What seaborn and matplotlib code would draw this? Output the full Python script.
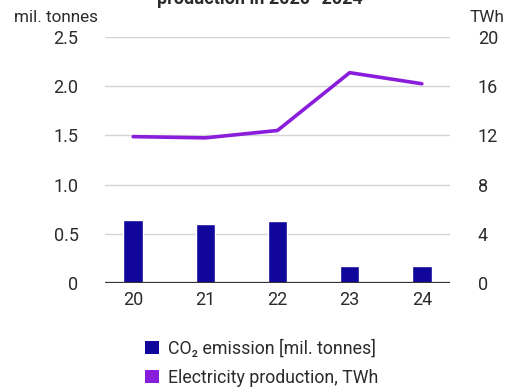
import matplotlib
matplotlib.use("Agg")
import matplotlib.pyplot as plt
from matplotlib.patches import Patch
import seaborn as sns
import pandas as pd

years = ["20", "21", "22", "23", "24"]
co2_emission = [0.64, 0.60, 0.63, 0.17, 0.17]          # mil. tonnes
electricity_twh = [11.9, 11.8, 12.4, 17.1, 16.2]       # TWh
left_ticks = [0, 0.5, 1.0, 1.5, 2.0, 2.5]
left_tick_labels = ["0", "0.5", "1.0", "1.5", "2.0", "2.5"]
right_ticks = [0, 4, 8, 12, 16, 20]
title_text = "production in 2020–2024"

bar_color = "#10069B"
line_color = "#8A1DDB"
text_color = "#2b2b2b"

sns.set_theme(style="white")
plt.rcParams["font.family"] = ["Roboto", "DejaVu Sans"]

df = pd.DataFrame({"year": years, "co2": co2_emission, "twh": electricity_twh})

fig = plt.figure(figsize=(5.09, 3.88), dpi=100)
ax = fig.add_axes([105 / 509, 1 - 283 / 388, 345 / 509, 246 / 388])

sns.barplot(data=df, x="year", y="co2", color=bar_color, width=0.27,
            saturation=1, ax=ax, zorder=3)
ax.set_xlim(-0.39, 4.39)
ax.set_ylim(0, 2.5)
ax.set_yticks(left_ticks)
ax.set_yticklabels(left_tick_labels)
ax.set_xlabel("")
ax.set_ylabel("")
ax.grid(axis="y", color="#d4d4d4", linewidth=1, zorder=0)
for s in ax.spines.values():
    s.set_visible(False)
ax.axhline(0, color="#333333", linewidth=1.6, zorder=4)
ax.tick_params(axis="y", length=0, pad=19, labelsize=13, labelcolor=text_color)
ax.tick_params(axis="x", length=0, pad=6, labelsize=13, labelcolor=text_color)

ax2 = ax.twinx()
sns.lineplot(data=df, x="year", y="twh", color=line_color, linewidth=2.6,
             ax=ax2, zorder=5)
ax2.set_ylim(0, 20)
ax2.set_yticks(right_ticks)
ax2.set_ylabel("")
for s in ax2.spines.values():
    s.set_visible(False)
ax2.tick_params(axis="y", length=0, pad=20, labelsize=13, labelcolor=text_color)
ax.set_xlim(-0.39, 4.39)

fig.text(14 / 509, 1 - 17 / 388, "mil. tonnes", fontsize=12.3, color=text_color,
         va="center", ha="left")
fig.text(470 / 509, 1 - 17 / 388, "TWh", fontsize=12.3, color=text_color,
         va="center", ha="left")
fig.text(260 / 509, 1 + 1 / 388, title_text, fontsize=13, fontweight="bold",
         color=text_color, va="center", ha="center")

handles = [Patch(facecolor=bar_color, edgecolor="none"),
           Patch(facecolor=line_color, edgecolor="none")]
labels = ["CO₂ emission [mil. tonnes]", "Electricity production, TWh"]
fig.legend(handles, labels, loc="center", bbox_to_anchor=(262 / 509, 1 - 363 / 388),
           frameon=False, fontsize=12.8, labelcolor=text_color,
           handlelength=0.75, handleheight=0.75, handletextpad=0.55,
           labelspacing=0.6, borderaxespad=0)

fig.savefig("out.png", dpi=100)
